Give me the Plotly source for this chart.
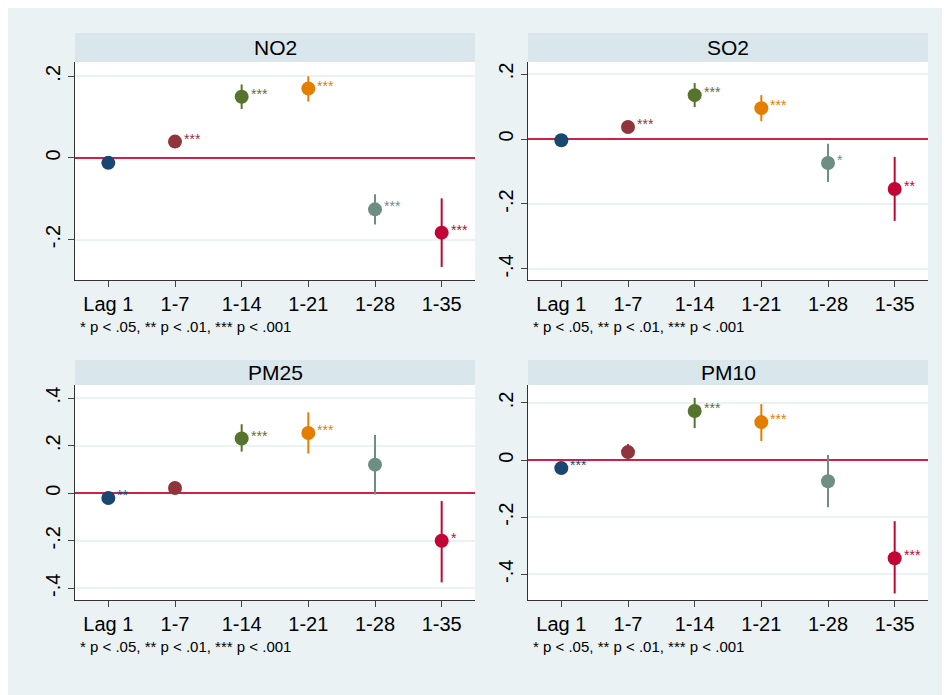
import plotly.graph_objects as go

lags = ["Lag 1", "1-7", "1-14", "1-21", "1-28", "1-35"]
colors = ["#1a476f", "#90353b", "#55752f", "#e37e00", "#6e8e84", "#c10534"]

pollutants = ["NO2", "SO2", "PM25", "PM10"]
est = {
    "NO2": [-0.012, 0.040, 0.150, 0.170, -0.126, -0.183],
    "SO2": [-0.004, 0.037, 0.135, 0.095, -0.074, -0.154],
    "PM25": [-0.020, 0.022, 0.230, 0.253, 0.120, -0.200],
    "PM10": [-0.028, 0.028, 0.172, 0.133, -0.074, -0.344],
}
lo = {
    "NO2": [-0.020, 0.032, 0.120, 0.138, -0.163, -0.267],
    "SO2": [-0.010, 0.030, 0.098, 0.055, -0.132, -0.252],
    "PM25": [-0.030, 0.000, 0.175, 0.167, -0.005, -0.375],
    "PM10": [-0.036, 0.000, 0.112, 0.067, -0.165, -0.467],
}
hi = {
    "NO2": [-0.004, 0.048, 0.180, 0.200, -0.089, -0.099],
    "SO2": [0.002, 0.044, 0.172, 0.135, -0.015, -0.055],
    "PM25": [-0.010, 0.050, 0.290, 0.340, 0.245, -0.033],
    "PM10": [-0.020, 0.056, 0.218, 0.196, 0.018, -0.214],
}
stars = {
    "NO2": ["", "***", "***", "***", "***", "***"],
    "SO2": ["", "***", "***", "***", "*", "**"],
    "PM25": ["**", "", "***", "***", "", "*"],
    "PM10": ["***", "", "***", "***", "", "***"],
}
yranges = {"NO2": [-0.299, 0.235], "SO2": [-0.434, 0.237],
           "PM25": [-0.449, 0.455], "PM10": [-0.49, 0.263]}
yticks = {"NO2": [-0.2, 0, 0.2], "SO2": [-0.4, -0.2, 0, 0.2],
          "PM25": [-0.4, -0.2, 0, 0.2, 0.4], "PM10": [-0.4, -0.2, 0, 0.2]}

def fmt(v):
    if v == 0:
        return "0"
    return ("%.1f" % v).replace("0.", ".")

W, H = 950, 695
OFF = 8  # page margin offset
boxes = [(75, 475, 62, 280, 33), (528, 928, 62, 280, 33),
         (75, 475, 385, 600, 360), (528, 928, 385, 600, 360)]

fig = go.Figure()
layout = {}
for i, p in enumerate(pollutants):
    n = "" if i == 0 else str(i + 1)
    x0, x1, yt, yb, st = [v - OFF for v in boxes[i]]
    xd = [x0 / W, x1 / W]
    yd = [1 - yb / H, 1 - yt / H]
    for j in range(6):
        e = est[p][j]
        fig.add_trace(go.Scatter(
            x=[lags[j]], y=[e], mode="markers",
            marker=dict(color=colors[j], size=14),
            error_y=dict(type="data", symmetric=False,
                         array=[hi[p][j] - e], arrayminus=[e - lo[p][j]],
                         color=colors[j], thickness=2, width=0),
            xaxis="x" + n, yaxis="y" + n, showlegend=False))
        if stars[p][j]:
            fig.add_annotation(x=lags[j], y=e, xref="x" + n, yref="y" + n,
                               text=stars[p][j], showarrow=False,
                               xanchor="left", yanchor="middle", xshift=7, yshift=3,
                               font=dict(color=colors[j], size=14))
    layout["xaxis" + n] = dict(domain=xd, anchor="y" + n, type="category",
                               categoryorder="array", categoryarray=lags,
                               range=[-0.5, 5.5], showline=True, linecolor="#333",
                               ticks="outside", ticklen=6, showgrid=False,
                               tickfont=dict(size=20, color="black"))
    layout["yaxis" + n] = dict(domain=yd, anchor="x" + n, range=yranges[p],
                               tickvals=yticks[p], ticktext=[fmt(v) for v in yticks[p]],
                               tickangle=-90, showline=True, linecolor="#333",
                               ticks="outside", ticklen=6, gridcolor="#eaf2f3",
                               gridwidth=2, zeroline=True, zerolinecolor="#d0204a",
                               zerolinewidth=2, tickfont=dict(size=20, color="black"))
    fig.add_shape(type="rect", xref="paper", yref="paper",
                  x0=x0 / W, x1=x1 / W, y0=1 - yt / H, y1=1 - st / H,
                  fillcolor="#d9e6eb", line=dict(width=0))
    fig.add_annotation(text=p, xref="paper", yref="paper",
                       x=(x0 + x1) / 2 / W, y=1 - (st + yt) / 2 / H,
                       xanchor="center", yanchor="middle",
                       showarrow=False, font=dict(size=21, color="black"))
    fig.add_annotation(text="* p < .05, ** p < .01, *** p < .001",
                       xref="paper", yref="paper", x=(x0 + 3) / W,
                       y=1 - (yb + 46) / H, xanchor="left", yanchor="middle",
                       showarrow=False, font=dict(size=15, color="black"))

fig.update_layout(width=W, height=H, margin=dict(l=0, r=0, t=0, b=0),
                  paper_bgcolor="#eaf2f3", plot_bgcolor="white",
                  font=dict(family="Arial"), **layout)
fig.write_html("out.html")
